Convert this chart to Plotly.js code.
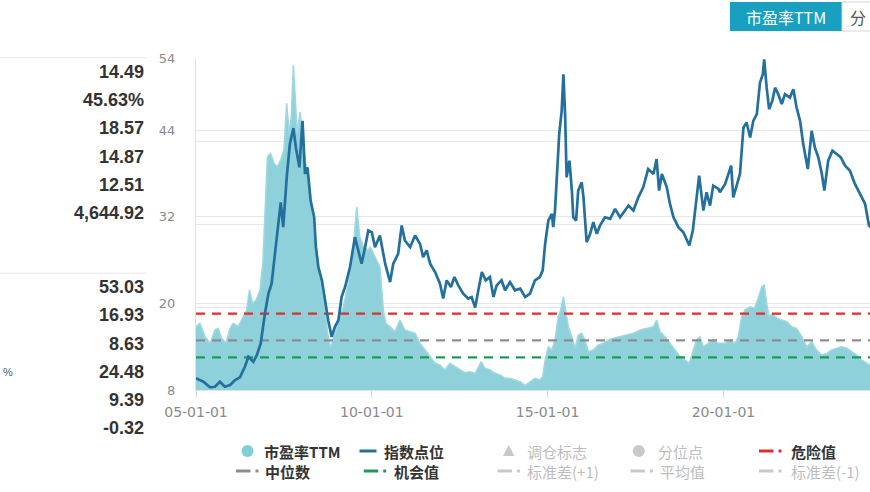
<!DOCTYPE html>
<html><head><meta charset="utf-8">
<script src="https://cdn.plot.ly/plotly-3.0.1.min.js"></script>
<style>html,body{margin:0;padding:0;overflow:hidden;background:#fff;width:870px;height:492px}#chart{width:900px;height:492px}</style>
</head><body><div id="chart"></div>
<script>
// ---------- data ----------
const peYears = [2005.00,2005.11,2005.26,2005.40,2005.54,2005.63,2005.73,2005.85,2005.97,2006.06,
2006.20,2006.35,2006.44,2006.52,2006.61,2006.71,2006.82,2006.90,2006.96,2007.03,
2007.12,2007.22,2007.31,2007.41,2007.50,2007.58,2007.65,2007.71,2007.77,2007.82,
2007.88,2007.96,2008.03,2008.10,2008.19,2008.29,2008.38,2008.48,2008.58,2008.67,
2008.76,2008.83,2008.92,2009.05,2009.19,2009.33,2009.47,2009.57,2009.66,2009.76,
2009.90,2009.95,2010.09,2010.23,2010.33,2010.40,2010.52,2010.66,2010.80,2010.94,
2011.09,2011.23,2011.37,2011.51,2011.66,2011.80,2011.94,2012.08,2012.22,2012.37,
2012.51,2012.65,2012.79,2012.94,2013.11,2013.22,2013.36,2013.50,2013.65,2013.79,
2013.93,2014.07,2014.22,2014.36,2014.50,2014.64,2014.78,2014.86,2014.93,2015.02,
2015.12,2015.21,2015.30,2015.37,2015.45,2015.52,2015.59,2015.69,2015.78,2015.87,
2015.97,2016.06,2016.16,2016.30,2016.44,2016.58,2016.73,2016.87,2017.06,2017.25,
2017.44,2017.63,2017.82,2018.01,2018.10,2018.20,2018.34,2018.48,2018.62,2018.77,
2018.91,2019.03,2019.13,2019.24,2019.33,2019.43,2019.57,2019.71,2019.86,2020.05,
2020.19,2020.33,2020.42,2020.52,2020.61,2020.76,2020.88,2020.99,2021.09,2021.16,
2021.23,2021.30,2021.39,2021.52,2021.66,2021.80,2021.94,2022.08,2022.23,2022.37,
2022.51,2022.65,2022.80,2022.94,2023.08,2023.22,2023.36,2023.51,2023.65,2023.79,
2023.93,2024.08,2024.17,2024.31,2024.45];
const peValues = [16.77,17.24,15.38,14.47,16.31,16.55,15.16,14.47,16.55,17.24,
16.77,18.15,19.08,21.85,20.01,20.47,21.85,25.55,32.00,40.31,
40.78,39.40,38.93,39.86,41.24,47.71,43.55,45.85,53.03,48.17,
43.55,46.55,42.63,39.86,38.01,32.93,29.23,25.08,21.85,19.08,
15.38,13.78,15.38,17.24,19.54,22.78,27.39,33.39,29.23,27.85,
27.39,27.85,26.46,25.08,19.08,17.24,16.77,16.07,17.70,16.31,
16.07,15.85,14.47,13.54,12.61,11.70,11.46,10.77,11.70,11.23,
10.77,10.40,10.53,10.31,11.92,11.01,10.77,10.31,10.08,9.62,
9.62,9.39,9.15,8.63,9.15,9.62,9.39,9.84,12.16,14.00,
13.54,14.93,18.15,19.08,20.92,18.62,16.77,15.38,13.78,15.62,
15.85,14.93,13.30,13.54,14.23,14.47,14.93,15.16,15.38,15.62,
15.85,16.31,16.55,16.77,17.70,16.07,15.38,14.47,13.54,12.61,
12.16,11.70,13.30,14.93,15.38,14.00,14.47,14.93,14.47,14.47,
14.93,14.47,15.38,18.15,19.08,19.54,19.32,20.70,22.31,22.54,
20.01,18.15,18.62,17.93,17.70,17.46,16.77,16.55,15.38,14.00,
14.69,13.54,12.85,13.08,13.54,13.78,14.00,13.78,13.30,12.85,
12.16,11.70,11.46,12.16,14.49];

const idxYears = [2005.00,2005.21,2005.40,2005.54,2005.68,2005.82,2005.97,2006.11,2006.25,2006.39,
2006.49,2006.63,2006.73,2006.84,2006.96,2007.06,2007.15,2007.25,2007.34,2007.41,
2007.48,2007.58,2007.67,2007.77,2007.84,2007.94,2008.03,2008.10,2008.17,2008.26,
2008.36,2008.41,2008.48,2008.58,2008.67,2008.76,2008.86,2008.95,2009.05,2009.14,
2009.24,2009.38,2009.52,2009.62,2009.71,2009.81,2009.90,2010.00,2010.09,2010.23,
2010.38,2010.52,2010.61,2010.75,2010.85,2010.94,2011.09,2011.23,2011.37,2011.46,
2011.56,2011.66,2011.80,2011.94,2012.03,2012.13,2012.25,2012.35,2012.46,2012.60,
2012.74,2012.84,2012.94,2013.03,2013.13,2013.24,2013.36,2013.46,2013.55,2013.69,
2013.79,2013.93,2014.07,2014.22,2014.36,2014.50,2014.64,2014.78,2014.86,2014.93,
2015.02,2015.12,2015.16,2015.21,2015.28,2015.33,2015.40,2015.45,2015.50,2015.54,
2015.62,2015.69,2015.73,2015.81,2015.87,2015.97,2016.02,2016.11,2016.21,2016.30,
2016.40,2016.49,2016.63,2016.78,2016.92,2017.06,2017.20,2017.30,2017.44,2017.58,
2017.72,2017.86,2018.01,2018.10,2018.17,2018.25,2018.39,2018.48,2018.58,2018.72,
2018.86,2019.03,2019.13,2019.22,2019.31,2019.43,2019.52,2019.62,2019.71,2019.86,
2019.90,2020.05,2020.14,2020.22,2020.28,2020.38,2020.47,2020.57,2020.66,2020.76,
2020.85,2020.95,2021.04,2021.12,2021.16,2021.23,2021.30,2021.39,2021.47,2021.56,
2021.66,2021.75,2021.89,2021.99,2022.08,2022.18,2022.27,2022.40,2022.51,2022.60,
2022.70,2022.80,2022.87,2022.98,2023.10,2023.22,2023.34,2023.46,2023.60,2023.74,
2023.89,2024.03,2024.14,2024.31,2024.45];
const idxValues = [1067,989,862,875,989,875,914,1028,1090,1332,
1560,1446,1599,1866,2550,3007,3235,3995,4604,5097,
4527,5668,6430,6795,6352,5896,6961,5745,5896,5136,
4755,4070,3614,3310,2854,2397,2016,2245,2397,2929,
3157,3614,4298,3995,3691,4070,4451,4412,4070,4337,
3691,3271,3691,3919,4565,4223,4070,4337,4148,3842,
3995,3691,3500,3235,2893,3310,3157,3386,3196,3007,
2893,2929,2687,3082,3500,3310,3386,2929,3196,3310,
3082,3271,3082,3121,2929,3007,3310,3386,3538,4148,
4679,4832,4527,4908,5896,6658,7190,8027,7037,5668,
6049,5364,4755,4679,5364,5553,5211,4184,4376,4641,
4376,4565,4755,4718,4946,4755,4908,5022,4908,5211,
5439,5859,5745,6087,5364,5745,5439,5060,4755,4527,
4412,4109,4451,5136,5706,4908,5325,5022,5478,5403,
5325,5517,5745,5935,5211,5517,5745,6809,6923,6580,
6961,7114,7835,8027,8369,7721,7228,7418,7721,7571,
7343,7571,7493,7685,7265,6961,6430,5859,6733,6352,
6124,5745,5364,6049,6277,6202,6124,5935,5820,5517,
5289,5060,4565,4451,4645];

const dangerValue = 18.57;
const medianValue = 14.87;
const chanceValue = 12.51;

const xTickVals = [2005, 2010, 2015, 2020];
const xTickText = ['05-01-01', '10-01-01', '15-01-01', '20-01-01'];
const yTickVals = [8, 20, 32, 44, 54];

const statsTop = ['14.49', '45.63%', '18.57', '14.87', '12.51', '4,644.92'];
const statsBottom = ['53.03', '16.93', '8.63', '24.48', '9.39', '-0.32'];

const legendRow1 = ['市盈率TTM', '指数点位', '调仓标志', '分位点', '危险值'];
const legendRow2 = ['中位数', '机会值', '标准差(+1)', '平均值', '标准差(-1)'];
const buttonLabels = ['市盈率TTM', '分'];

// ---------- layout helpers ----------
const W = 900, H = 492, ML = 196, MR = 5, MT = 58, MB = 102;
const PW = W - ML - MR, PH = H - MT - MB;
const px = x => (x - ML) / PW;
const py = y => (H - MB - y) / PH;
const xRange = [2005, 2024.88];

const teal = '#8fd1da', tealLine = '#9fd9e0', blue = '#23709f';
const red = '#d8312e', grey = '#8c8c94', green = '#1f9a55', light = '#c9c9c9';

const traces = [
  {x: peYears, y: peValues, type: 'scatter', mode: 'lines', fill: 'tozeroy',
   fillcolor: teal, line: {color: tealLine, width: 1.5}, hoverinfo: 'skip'},
  {x: xRange, y: [dangerValue, dangerValue], mode: 'lines', line: {color: red, width: 2.2, dash: '9px,7px'}, hoverinfo: 'skip'},
  {x: xRange, y: [medianValue, medianValue], mode: 'lines', line: {color: grey, width: 2.2, dash: '9px,7px'}, hoverinfo: 'skip'},
  {x: xRange, y: [chanceValue, chanceValue], mode: 'lines', line: {color: green, width: 2.2, dash: '9px,7px'}, hoverinfo: 'skip'},
  {x: idxYears, y: idxValues, yaxis: 'y2', mode: 'lines', line: {color: blue, width: 2.7}, hoverinfo: 'skip'}
];

const shapes = [];
const annotations = [];

// left statistics panel
shapes.push({type: 'line', xref: 'paper', yref: 'paper', x0: px(0), x1: px(146), y0: py(57.7), y1: py(57.7), line: {color: '#e6e6e6', width: 1}});
shapes.push({type: 'line', xref: 'paper', yref: 'paper', x0: px(0), x1: px(146), y0: py(273.3), y1: py(273.3), line: {color: '#e6e6e6', width: 1}});
const statFont = {family: 'Liberation Sans, Arial', size: 18, color: '#333', weight: 'bold'};
statsTop.forEach((t, i) => annotations.push({text: t, xref: 'paper', yref: 'paper', x: px(146), y: py(72 + i * 28.2),
  xanchor: 'right', yanchor: 'middle', showarrow: false, font: statFont}));
statsBottom.forEach((t, i) => annotations.push({text: t, xref: 'paper', yref: 'paper', x: px(146), y: py(287 + i * 28.3),
  xanchor: 'right', yanchor: 'middle', showarrow: false, font: statFont}));
annotations.push({text: '%', xref: 'paper', yref: 'paper', x: px(0.5), y: py(372), xanchor: 'left', yanchor: 'middle',
  showarrow: false, font: {family: 'Liberation Sans, Arial', size: 11, color: '#555'}});

// top-right buttons
shapes.push({type: 'rect', xref: 'paper', yref: 'paper', x0: px(730), x1: px(842), y0: py(31), y1: py(2), fillcolor: '#19a0c0', line: {width: 0}});
shapes.push({type: 'rect', xref: 'paper', yref: 'paper', x0: px(842), x1: px(890), y0: py(31), y1: py(2), fillcolor: '#ffffff', line: {color: '#d4d4d4', width: 1}});
annotations.push({text: buttonLabels[0], xref: 'paper', yref: 'paper', x: px(786), y: py(17), xanchor: 'center', yanchor: 'middle',
  showarrow: false, font: {family: 'Noto Sans CJK SC', size: 16, color: '#ffffff'}});
annotations.push({text: buttonLabels[1], xref: 'paper', yref: 'paper', x: px(848), y: py(17), xanchor: 'left', yanchor: 'middle',
  showarrow: false, font: {family: 'Noto Sans CJK SC', size: 16, color: '#555'}});

// custom legend
const r1 = 451, r2 = 471;
const activeFont = {family: 'Noto Sans CJK SC', size: 15, color: '#333', weight: 'bold'};
const idleFont = {family: 'Noto Sans CJK SC', size: 15, color: '#bdbdbd'};
function circle(cx, cy, r, c) {
  shapes.push({type: 'circle', xref: 'paper', yref: 'paper', x0: px(cx - r), x1: px(cx + r), y0: py(cy + r), y1: py(cy - r), fillcolor: c, line: {width: 0}});
}
function seg(x0, x1, y, c) {
  shapes.push({type: 'line', xref: 'paper', yref: 'paper', x0: px(x0), x1: px(x1), y0: py(y), y1: py(y), line: {color: c, width: 3}});
}
function dashDot(x0, y, c) {
  seg(x0, x0 + 14.5, y, c);
  shapes.push({type: 'rect', xref: 'paper', yref: 'paper', x0: px(x0 + 19.5), x1: px(x0 + 22.5), y0: py(y + 1.5), y1: py(y - 1.5), fillcolor: c, line: {width: 0}});
}
function label(t, x, y, active) {
  annotations.push({text: t, xref: 'paper', yref: 'paper', x: px(x), y: py(y), xanchor: 'left', yanchor: 'middle', showarrow: false, font: active ? activeFont : idleFont});
}
circle(247.5, r1, 6, '#7fcfd8');             label(legendRow1[0], 262.4, r1, true);
seg(359.5, 376.5, r1, blue);                  label(legendRow1[1], 382.3, r1, true);
shapes.push({type: 'path', xref: 'paper', yref: 'paper',
  path: `M ${px(503)},${py(456)} L ${px(514.4)},${py(456)} L ${px(508.7)},${py(445)} Z`, fillcolor: light, line: {width: 0}});
                                              label(legendRow1[2], 525, r1, false);
circle(638.8, r1, 6, light);                  label(legendRow1[3], 655.7, r1, false);
dashDot(759, r1, red);                        label(legendRow1[4], 788.6, r1, true);

dashDot(236, r2, grey);                       label(legendRow2[0], 263.3, r2, true);
dashDot(363.7, r2, green);                    label(legendRow2[1], 392, r2, true);
dashDot(497.5, r2, light);                    label(legendRow2[2], 525, r2, false);
dashDot(630.4, r2, light);                    label(legendRow2[3], 657.8, r2, false);
dashDot(759, r2, light);                      label(legendRow2[4], 788.6, r2, false);

const layout = {
  width: W, height: H, margin: {l: ML, r: MR, t: MT, b: MB, pad: 0},
  paper_bgcolor: '#fff', plot_bgcolor: '#fff', showlegend: false,
  xaxis: {range: xRange, tickvals: xTickVals, ticktext: xTickText, ticks: 'outside', ticklen: 6, tickcolor: '#d0d0d0',
    showgrid: false, zeroline: false, showline: true, linecolor: '#e2e2e2',
    tickfont: {family: 'DejaVu Sans', size: 14, color: '#8a8a8a'}, ticklabelstandoff: 3},
  yaxis: {range: [8, 54], tickvals: yTickVals, showgrid: true, gridcolor: '#e8e8e8', zeroline: false,
    showline: true, linecolor: '#e2e2e2', ticks: '', tickfont: {family: 'DejaVu Sans', size: 13, color: '#8a8a8a'}, ticklabelstandoff: 17},
  yaxis2: {overlaying: 'y', side: 'right', range: [800, 8400], tick0: 800, dtick: 1900, showgrid: true, gridcolor: '#e8e8e8',
    zeroline: false, showline: false, showticklabels: false, ticks: ''},
  shapes: shapes, annotations: annotations
};

Plotly.newPlot('chart', traces, layout, {staticPlot: true, displayModeBar: false});
</script>
</body></html>
